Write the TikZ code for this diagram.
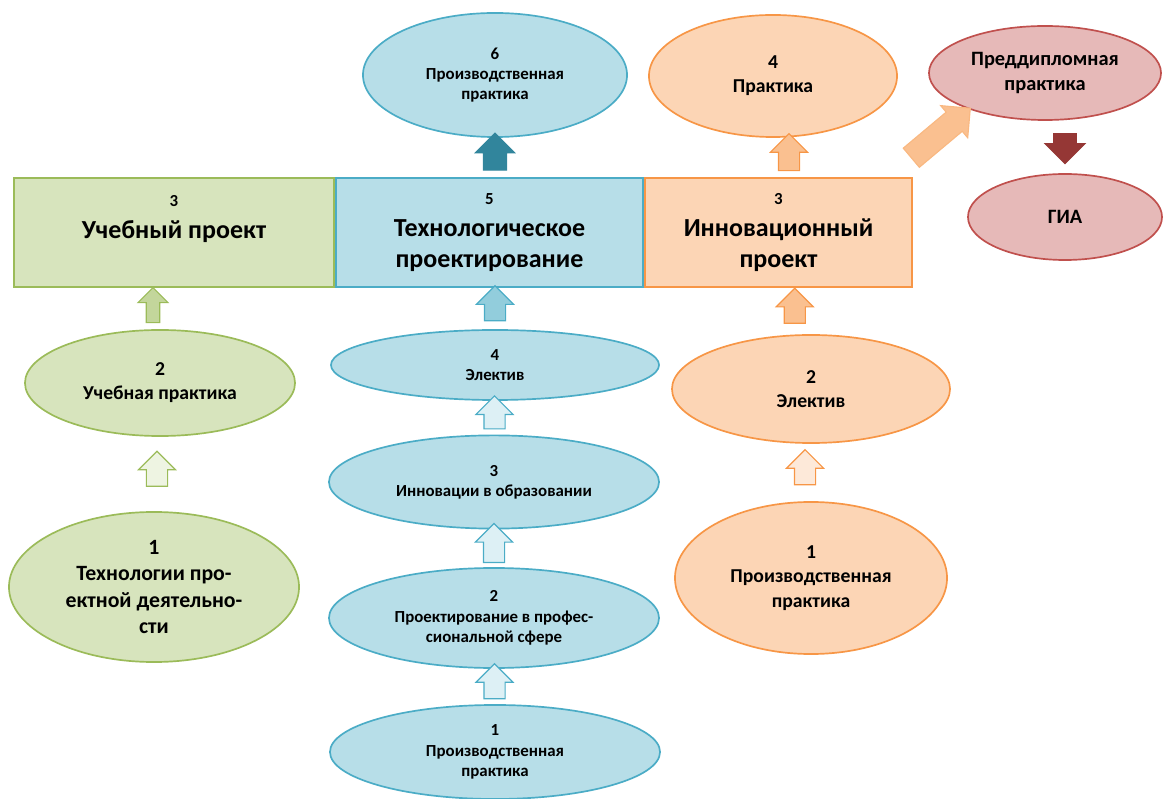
\documentclass[tikz,border=0pt]{standalone}
\usepackage{fontspec}
\setmainfont{Carlito}
\usetikzlibrary{shapes.geometric, shapes.arrows, positioning, calc}
\definecolor{gfill}{HTML}{D7E4BD}
\definecolor{gdraw}{HTML}{9BBB59}
\definecolor{garrow}{HTML}{C3D69B}
\definecolor{glight}{HTML}{EEF4E2}
\definecolor{bfill}{HTML}{B7DEE8}
\definecolor{bdraw}{HTML}{4BACC6}
\definecolor{barrow}{HTML}{92CDDC}
\definecolor{blight}{HTML}{DDF0F5}
\definecolor{bdark}{HTML}{31859C}
\definecolor{ofill}{HTML}{FCD5B5}
\definecolor{odraw}{HTML}{F79646}
\definecolor{oarrow}{HTML}{FAC090}
\definecolor{olight}{HTML}{FDE9D9}
\definecolor{rfill}{HTML}{E6B9B8}
\definecolor{rdraw}{HTML}{C0504D}
\definecolor{rdark}{HTML}{953735}
\newcommand{\stagenum}[1]{{\fontsize{12}{14}\selectfont #1}}

\begin{document}
\begin{tikzpicture}[
    x=0.025cm, y=-0.025cm,
    stage/.style={rectangle, draw=#1draw, fill=#1fill, line width=1.3pt, minimum height=2.725cm, inner sep=0pt, align=center, font=\bfseries\fontsize{18.5}{21.8}\selectfont},
    course/.style={ellipse, draw=#1draw, fill=#1fill, line width=1.2pt, inner sep=0pt, align=center, font=\bfseries\fontsize{14}{17.2}\selectfont},
    small/.style={font=\bfseries\fontsize{12}{14.4}\selectfont},
    blockarrow/.style={single arrow, single arrow head extend=0.2cm, minimum width=0.9cm, minimum height=0.875cm, inner xsep=0pt, inner ysep=0.25cm, line width=0.8pt}
]
\useasboundingbox (0,0) rectangle (1164,799);

\node[stage=g, minimum width=8cm] (uproj) at (174,232.5) {\stagenum{3}\\[1pt]Учебный проект\\\mbox{}};
\node[stage=b, minimum width=7.675cm] (tproj) at (489.5,232.5) {\stagenum{5}\\[1pt]Технологическое\\проектирование};
\node[stage=o, minimum width=6.675cm] (iproj) at (778.5,232.5) {\stagenum{3}\\[1pt]Инновационный\\проект};

\node[course=g, minimum width=6.75cm, minimum height=2.65cm] (upract) at (160,383) {2\\Учебная практика};
\node[course=g, minimum width=7.25cm, minimum height=3.75cm, font=\bfseries\fontsize{15.5}{18.5}\selectfont] (tpd) at (154,587) {1\\Технологии про-\\ектной деятельно-\\сти};

\node[course=b, small, minimum width=6.6cm, minimum height=3.1cm] (bprod6) at (495,75) {6\\Производственная\\практика};
\node[course=b, small, minimum width=8.2cm, minimum height=1.75cm] (belect) at (495,365) {4\\Электив};
\node[course=b, small, minimum width=8.25cm, minimum height=2.33cm] (innov) at (494,482) {3\\Инновации в образовании};
\node[course=b, small, minimum width=8.25cm, minimum height=2.5cm] (projprof) at (494,618) {2\\Проектирование в профес-\\сиональной сфере};
\node[course=b, small, minimum width=8.25cm, minimum height=2.35cm] (bprod1) at (495,752) {1\\Производственная\\практика};

\node[course=o, minimum width=6.2cm, minimum height=3.05cm] (opract) at (773,76) {4\\Практика};
\node[course=o, minimum width=6.95cm, minimum height=2.7cm] (oelect) at (811,389) {2\\Электив};
\node[course=o, minimum width=6.8cm, minimum height=3.8cm] (oprod1) at (811,578) {1\\Производственная\\практика};

\node[course=r, minimum width=5.8cm, minimum height=2.35cm, font=\bfseries\fontsize{14.5}{17.5}\selectfont] (predip) at (1045,73) {Преддипломная\\практика};
\node[course=r, minimum width=4.85cm, minimum height=2.15cm, font=\bfseries\fontsize{14.5}{17.5}\selectfont] (gia) at (1065,217) {ГИА};

\node[blockarrow, xshift=-0.175cm, rotate=90, draw=gdraw, fill=garrow, minimum width=0.75cm, inner ysep=0.15cm] (a1) at ($(upract.north)!0.5!(upract.north |- uproj.south)$) {};
\node[blockarrow, rotate=90, draw=gdraw, fill=glight] (a2) at ($(tpd.north)!0.5!(upract.south)$) {};

\node[blockarrow, rotate=90, draw=bdark, fill=bdark, minimum height=0.925cm, inner ysep=0.275cm] (a3) at ($(bprod6.south)!0.5!(bprod6.south |- tproj.north)$) {};
\node[blockarrow, rotate=90, draw=bdraw, fill=barrow] (a4) at ($(belect.north)!0.5!(belect.north |- tproj.south)$) {};
\node[blockarrow, rotate=90, draw=bdraw, fill=blight, minimum height=0.825cm] (a5) at ($(innov.north)!0.5!(belect.south)$) {};
\node[blockarrow, rotate=90, draw=bdraw, fill=blight, minimum height=0.975cm] (a6) at ($(projprof.north)!0.5!(innov.south)$) {};
\node[blockarrow, rotate=90, draw=bdraw, fill=blight] (a7) at ($(bprod1.north)!0.5!(projprof.south)$) {};

\node[blockarrow, xshift=0.4cm, rotate=90, draw=odraw, fill=oarrow, minimum height=0.925cm] (a8) at ($(opract.south)!0.5!(opract.south |- iproj.north)$) {};
\node[blockarrow, rotate=90, draw=odraw, fill=oarrow] (a9) at ($(oelect.north)!0.5!(iproj.south)$) {};
\node[blockarrow, xshift=-0.15cm, rotate=90, draw=odraw, fill=olight] (a10) at ($(oprod1.north)!0.5!(oelect.south)$) {};
\node[blockarrow, rotate=40, draw=oarrow!80!odraw, fill=oarrow, minimum height=1.925cm, minimum width=1.05cm, inner ysep=0.28cm] (a11) at (936,137) {};

\node[blockarrow, yshift=0.1cm, rotate=-90, draw=rdark, fill=rdark, minimum height=0.75cm, minimum width=1cm] (a12) at ($(gia.north)!0.5!(gia.north |- predip.south)$) {};

\end{tikzpicture}
\end{document}
